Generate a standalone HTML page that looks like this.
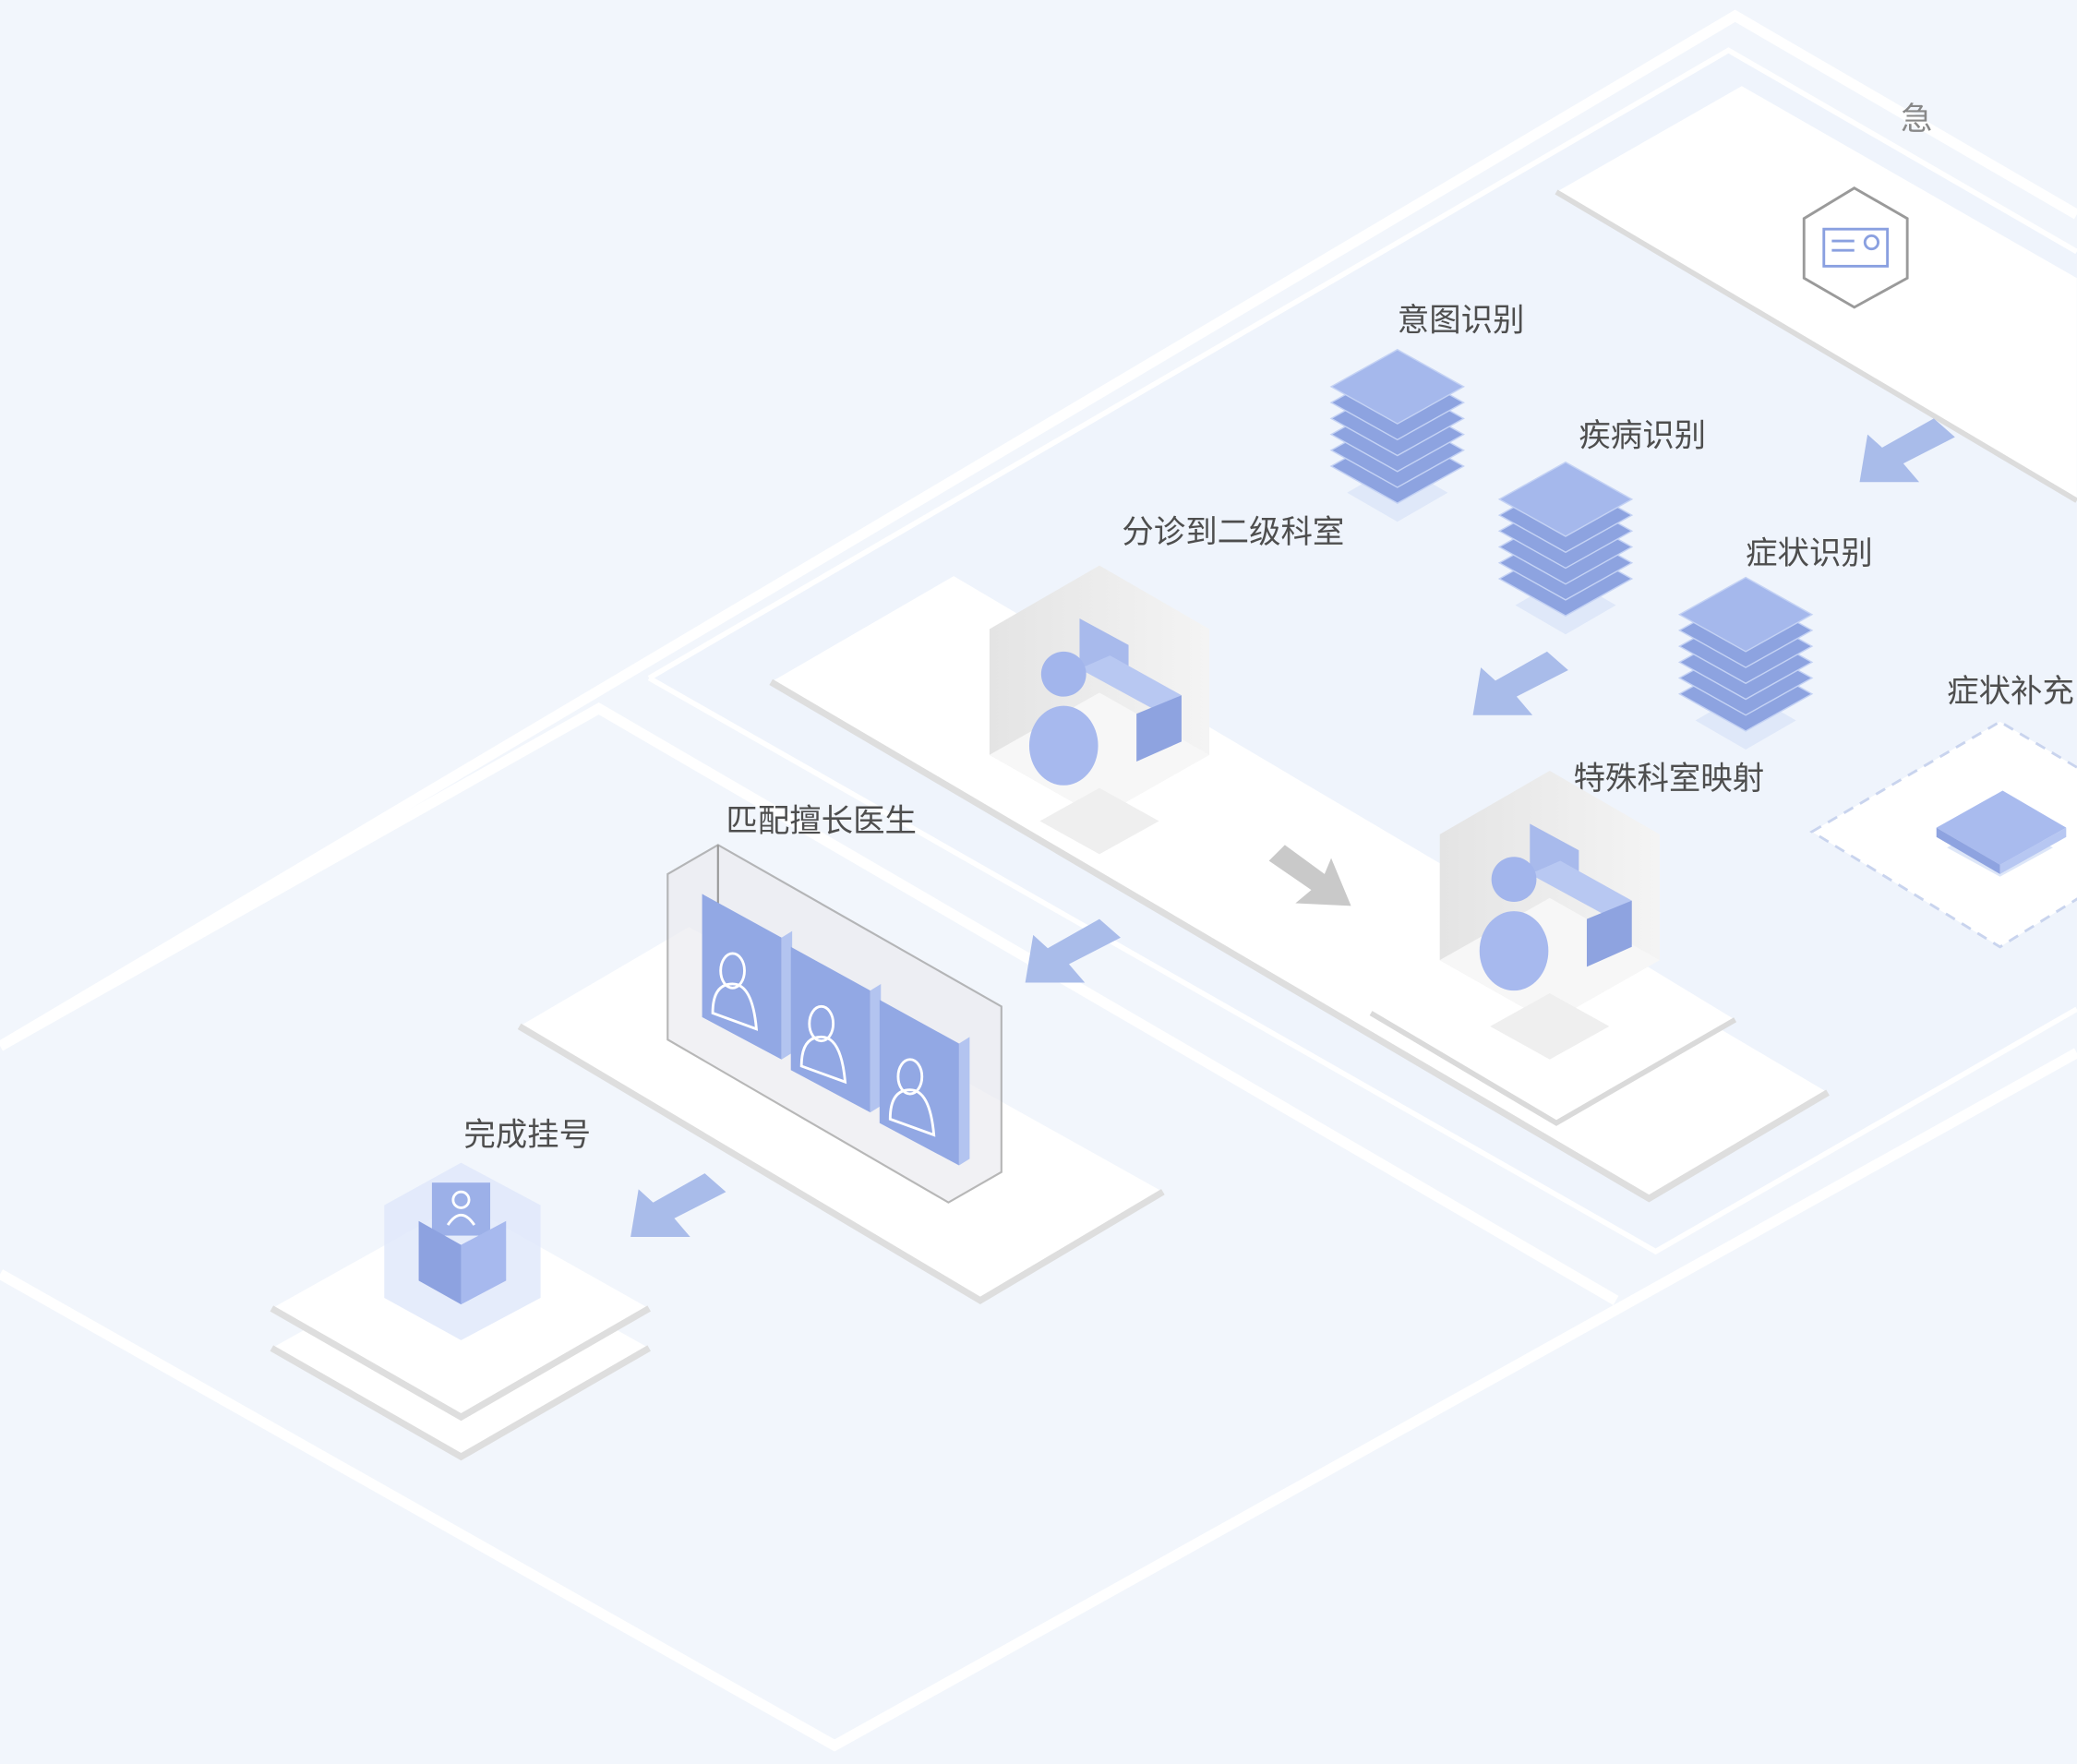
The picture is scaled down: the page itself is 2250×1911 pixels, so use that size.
<!DOCTYPE html>
<html><head><meta charset="utf-8"><style>
html,body{margin:0;padding:0;background:#f2f6fc;}
svg{display:block;}
text{font-family:"Liberation Sans","Noto Sans CJK SC",sans-serif;fill:#4e4e4e;font-size:24px;}
</style></head><body>
<svg width="2250" height="1911" viewBox="0 0 1568 1332" xmlns="http://www.w3.org/2000/svg">
<defs>
<linearGradient id="gr" x1="0" y1="0" x2="1" y2="0"><stop offset="0" stop-color="#e4e4e4"/><stop offset="1" stop-color="#f4f4f4"/></linearGradient>
<g id="arrow"><polygon points="-36,22 -30,-14 -19,-4 20,-26 36,-12 -3,8 9,22" fill="#a9bcea"/></g>
<g id="stack">
<polygon points="-38,62 0,40 38,62 0,84" fill="#dfe8f9"/>
<g fill="#8da3e0" stroke="#c4d2f4" stroke-width="1">
<polygon points="-50,42 0,14 50,42 0,70"/>
<polygon points="-50,30 0,2 50,30 0,58"/>
<polygon points="-50,18 0,-10 50,18 0,46"/>
<polygon points="-50,6 0,-22 50,6 0,34"/>
<polygon points="-50,-6 0,-34 50,-6 0,22"/>
<polygon points="-50,-18 0,-46 50,-18 0,10" fill="#a5b8ec"/>
</g></g>
<g id="desk">
<polygon points="-83,-50 0,-98 83,-50 83,45 0,92 -83,45" fill="url(#gr)"/>
<polygon points="-83,45 0,-2 83,45 0,92" fill="#f7f7f7"/>
<polygon points="-45,95 0,70 45,95 0,120" fill="#efefef"/>
<polygon points="-15,-58 22,-38 22,-4 -15,-24" fill="#a8baec"/>
<polygon points="-15,-20 40,10 62,0 8,-30" fill="#b8c8f2"/>
<polygon points="28,14 62,0 62,35 28,50" fill="#8ea3e0"/>
<ellipse cx="-27" cy="38" rx="26" ry="30" fill="#a7b9ee"/>
<circle cx="-27" cy="-16" r="17" fill="#a2b5ec"/>
</g>
</defs>

<polyline points="0,790 1310,12 1568,162" fill="none" stroke="#fff" stroke-width="8"/>
<polyline points="0,962 630,1318 1568,795" fill="none" stroke="#fff" stroke-width="8"/>
<polygon points="490,512 1305,38 1568,190 1568,760 1250,945" fill="#eff4fc"/>
<polyline points="490,512 1305,38 1568,190" fill="none" stroke="#fff" stroke-width="4"/>
<polyline points="490,512 1250,945 1568,762" fill="none" stroke="#fff" stroke-width="4"/>
<polyline points="0,790 452,535 1220,982" fill="none" stroke="#fff" stroke-width="8"/>

<polygon points="1175,145 1315,65 1568,210 1568,378" fill="#fff"/>
<line x1="1175" y1="145" x2="1568" y2="378" stroke="#dcdcdc" stroke-width="4"/>
<polygon points="1400,142 1440,165 1440,210 1400,232 1362,210 1362,165" fill="#fff" stroke="#9a9a9a" stroke-width="2"/>
<rect x="1377" y="173" width="48" height="28" fill="#fff" stroke="#8aa0e0" stroke-width="2"/>
<line x1="1383" y1="182" x2="1400" y2="182" stroke="#8aa0e0" stroke-width="2"/>
<line x1="1383" y1="189" x2="1400" y2="189" stroke="#8aa0e0" stroke-width="2"/>
<circle cx="1413" cy="183" r="5" fill="none" stroke="#8aa0e0" stroke-width="2"/>
<text x="1435" y="98" font-size="14" style="fill:#888">急</text>
<use href="#arrow" x="1440" y="342"/>

<text x="1055" y="250">意图识别</text>
<use href="#stack" x="1055" y="310"/>
<text x="1192" y="337">疾病识别</text>
<use href="#stack" x="1182" y="395"/>
<text x="1318" y="426">症状识别</text>
<use href="#stack" x="1318" y="482"/>
<use href="#arrow" x="1148" y="518"/>

<text x="1470" y="530">症状补充</text>
<polygon points="1368,628 1510,545 1650,628 1510,715" fill="#fff" stroke="#c9d4ee" stroke-width="2" stroke-dasharray="8,6"/>
<polygon points="1470,640 1510,618 1550,640 1510,662" fill="#dde6f8"/>
<polygon points="1462,625 1512,597 1560,625 1510,653" fill="#a9bbee"/>
<polygon points="1462,625 1510,653 1510,660 1462,632" fill="#8ea3e0"/>
<polygon points="1510,653 1560,625 1560,632 1510,660" fill="#b7c7f2"/>

<polygon points="582,515 720,435 1380,825 1245,905" fill="#fff"/>
<polyline points="582,515 1245,905 1380,825" fill="none" stroke="#dedede" stroke-width="5"/>
<polygon points="1035,765 1175,688 1310,770 1175,848" fill="#fff"/>
<polyline points="1035,765 1175,848 1310,770" fill="none" stroke="#dadada" stroke-width="4"/>
<text x="847" y="410">分诊到二级科室</text>
<use href="#desk" x="830" y="525"/>
<polygon points="958,650 970,638 1000,660 1005,648 1020,684 978,682 990,672" fill="#c9c9c9"/>
<text x="1188" y="596">特殊科室映射</text>
<use href="#desk" x="1170" y="680"/>
<use href="#arrow" x="810" y="720"/>

<polygon points="392,775 520,700 878,900 740,982" fill="#fff"/>
<polyline points="392,775 740,982 878,900" fill="none" stroke="#dedede" stroke-width="5"/>
<text x="548" y="628">匹配擅长医生</text>
<polygon points="504,660 542,638 756,760 756,885 716,908 504,785" fill="#ececf0" opacity="0.7" stroke="#9a9a9a" stroke-width="1.5"/>
<line x1="542" y1="638" x2="542" y2="765" stroke="#9a9a9a" stroke-width="1.5"/>
<g>
<polygon points="530,675 590,708 590,800 530,768" fill="#92a8e4"/>
<polygon points="590,708 598,703 598,795 590,800" fill="#b3c4f0"/>
<polygon points="597,715 657,748 657,840 597,808" fill="#92a8e4"/>
<polygon points="657,748 665,743 665,835 657,840" fill="#b3c4f0"/>
<polygon points="664,755 724,788 724,880 664,848" fill="#92a8e4"/>
<polygon points="724,788 732,783 732,875 724,880" fill="#b3c4f0"/>
<g fill="none" stroke="#fff" stroke-width="2">
<ellipse cx="553" cy="733" rx="9" ry="13"/><path d="M538 765 q0 -22 15 -22 q15 0 18 34 z"/>
<ellipse cx="620" cy="773" rx="9" ry="13"/><path d="M605 805 q0 -22 15 -22 q15 0 18 34 z"/>
<ellipse cx="687" cy="813" rx="9" ry="13"/><path d="M672 845 q0 -22 15 -22 q15 0 18 34 z"/>
</g>
</g>
<use href="#arrow" x="512" y="912"/>

<polygon points="205,1018 348,938 490,1018 348,1100" fill="#fff"/>
<polyline points="205,1018 348,1100 490,1018" fill="none" stroke="#dedede" stroke-width="5"/>
<polygon points="205,988 348,908 490,988 348,1070" fill="#fff"/>
<polyline points="205,988 348,1070 490,988" fill="none" stroke="#dedede" stroke-width="5"/>
<text x="350" y="865">完成挂号</text>
<polygon points="290,910 348,878 408,910 408,980 348,1012 290,980" fill="#dfe7fa" opacity="0.8"/>
<rect x="326" y="893" width="44" height="40" fill="#9cb0e8"/>
<circle cx="348" cy="906" r="6" fill="none" stroke="#fff" stroke-width="2"/>
<path d="M338 925 q10 -15 20 0" fill="none" stroke="#fff" stroke-width="2"/>
<polygon points="316,922 348,940 348,985 316,967" fill="#8da2e0"/>
<polygon points="348,940 382,922 382,967 348,985" fill="#a7b9ee"/>
</svg>
</body></html>
